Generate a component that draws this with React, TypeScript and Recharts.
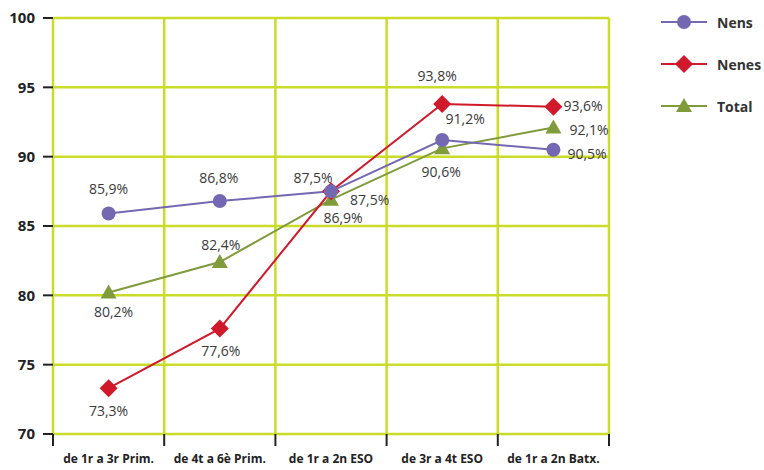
import React from "react";
import {
  LineChart,
  Line,
  CartesianGrid,
  XAxis,
  YAxis,
  LabelList,
} from "recharts";

const categories = [
  "de 1r a 3r Prim.",
  "de 4t a 6è Prim.",
  "de 1r a 2n ESO",
  "de 3r a 4t ESO",
  "de 1r a 2n Batx.",
];
const nens = [85.9, 86.8, 87.5, 91.2, 90.5];
const nenes = [73.3, 77.6, 87.5, 93.8, 93.6];
const total = [80.2, 82.4, 86.9, 90.6, 92.1];
const yTicks = [70, 75, 80, 85, 90, 95, 100];

const data = categories.map((name, i) => ({
  name,
  nens: nens[i],
  nenes: nenes[i],
  total: total[i],
}));

const W = 764;
const H = 470;
const margin = { top: 18, right: 155, left: 0, bottom: 0 };
const yAxisWidth = 53;
const plotWidth = W - margin.left - margin.right - yAxisWidth;
const band = plotWidth / categories.length;

const GRID = "#c9dc2a";
const PURPLE = "#7468b3";
const RED = "#d0192b";
const OLIVE = "#7f9b3b";
const FONT = "'Open Sans', sans-serif";

// label placement per point: [dx, dy, anchor]
type Place = [number, number, "start" | "middle" | "end"];
const nensPlace: Place[] = [[0, -25, "middle"], [-1, -24, "middle"], [-18, -14, "middle"], [23, -22, "middle"], [14, 4, "start"]];
const nenesPlace: Place[] = [[0, 22, "middle"], [1, 22, "middle"], [19, 8, "start"], [-5, -28, "middle"], [10, -1, "start"]];
const totalPlace: Place[] = [[5, 19, "middle"], [1, -18, "middle"], [12, 18, "middle"], [-1, 23, "middle"], [16, 2, "start"]];

const fmt = (v: number) => v.toFixed(1).replace(".", ",") + "%";

const makeLabel = (place: Place[]) => (props: any) => {
  const { x, y, value, index } = props;
  const [dx, dy, anchor] = place[index];
  return (
    <text
      x={x + dx}
      y={y + dy}
      textAnchor={anchor}
      dominantBaseline="central"
      fontSize={14}
      fontFamily={FONT}
      fill="#3a3a3a"
    >
      {fmt(value)}
    </text>
  );
};

const Circle = ({ cx, cy, fill }: any) => <circle cx={cx} cy={cy} r={7} fill={fill} />;
const Diamond = ({ cx, cy, fill }: any) => (
  <path d={`M${cx},${cy - 9}L${cx + 9},${cy}L${cx},${cy + 9}L${cx - 9},${cy}Z`} fill={fill} />
);
const Triangle = ({ cx, cy, fill }: any) => (
  <path d={`M${cx},${cy - 8}L${cx + 8},${cy + 6}L${cx - 8},${cy + 6}Z`} fill={fill} />
);

const XTick = (props: any) => {
  const { x, y, payload, index } = props;
  const left = x - band / 2;
  return (
    <g>
      <line x1={left} y1={y} x2={left} y2={y + 12} stroke="#222" strokeWidth={2} />
      {index === categories.length - 1 && (
        <line x1={x + band / 2} y1={y} x2={x + band / 2} y2={y + 12} stroke="#222" strokeWidth={2} />
      )}
      <text x={x} y={y + 29} textAnchor="middle" fontSize={12} fontWeight={700} fontFamily={FONT} fill="#222">
        {payload.value}
      </text>
    </g>
  );
};

const legendItems = [
  { label: "Nens", color: PURPLE, Mark: Circle },
  { label: "Nenes", color: RED, Mark: Diamond },
  { label: "Total", color: OLIVE, Mark: Triangle },
];

const LegendBox = () => (
  <svg width={110} height={120} style={{ position: "absolute", left: 659, top: 8 }}>
    {legendItems.map(({ label, color, Mark }, i) => {
      const cy = 14 + i * 42;
      return (
        <g key={label}>
          <line x1={2} y1={cy} x2={48} y2={cy} stroke={color} strokeWidth={2} />
          <Mark cx={25} cy={cy} fill={color} />
          <text x={58} y={cy} dominantBaseline="central" fontSize={14} fontWeight={700} fontFamily={FONT} fill="#333">
            {label}
          </text>
        </g>
      );
    })}
  </svg>
);

export default function App() {
  return (
    <div style={{ position: "absolute", left: 0, top: 0, width: W, height: H, background: "#fff" }}>
      <LineChart width={W} height={H} data={data} margin={margin}>
        <CartesianGrid
          stroke={GRID}
          strokeWidth={2.5}
          verticalCoordinatesGenerator={({ offset }: any) =>
            categories.map((_, i) => offset.left + i * (offset.width / categories.length)).concat(offset.left + offset.width)
          }
        />
        <XAxis
          dataKey="name"
          scale="band"
          axisLine={false}
          tickLine={false}
          tickSize={0}
          tickMargin={0}
          height={36}
          interval={0}
          tick={<XTick />}
        />
        <YAxis
          domain={[70, 100]}
          ticks={yTicks}
          width={yAxisWidth}
          axisLine={false}
          tickSize={10}
          tickMargin={8}
          tickLine={{ stroke: "#222", strokeWidth: 2 }}
          tick={{ fill: "#222", fontSize: 15, fontWeight: 700, fontFamily: FONT }}
          interval={0}
        />
        <Line
          dataKey="total"
          stroke={OLIVE}
          strokeWidth={2}
          isAnimationActive={false}
          dot={(p: any) => <Triangle key={`t${p.index}`} cx={p.cx} cy={p.cy} fill={OLIVE} />}
          activeDot={false}
        >
          <LabelList dataKey="total" content={makeLabel(totalPlace)} />
        </Line>
        <Line
          dataKey="nenes"
          stroke={RED}
          strokeWidth={2}
          isAnimationActive={false}
          dot={(p: any) => <Diamond key={`d${p.index}`} cx={p.cx} cy={p.cy} fill={RED} />}
          activeDot={false}
        >
          <LabelList dataKey="nenes" content={makeLabel(nenesPlace)} />
        </Line>
        <Line
          dataKey="nens"
          stroke={PURPLE}
          strokeWidth={2}
          isAnimationActive={false}
          dot={(p: any) => <Circle key={`c${p.index}`} cx={p.cx} cy={p.cy} fill={PURPLE} />}
          activeDot={false}
        >
          <LabelList dataKey="nens" content={makeLabel(nensPlace)} />
        </Line>
      </LineChart>
      <LegendBox />
    </div>
  );
}
